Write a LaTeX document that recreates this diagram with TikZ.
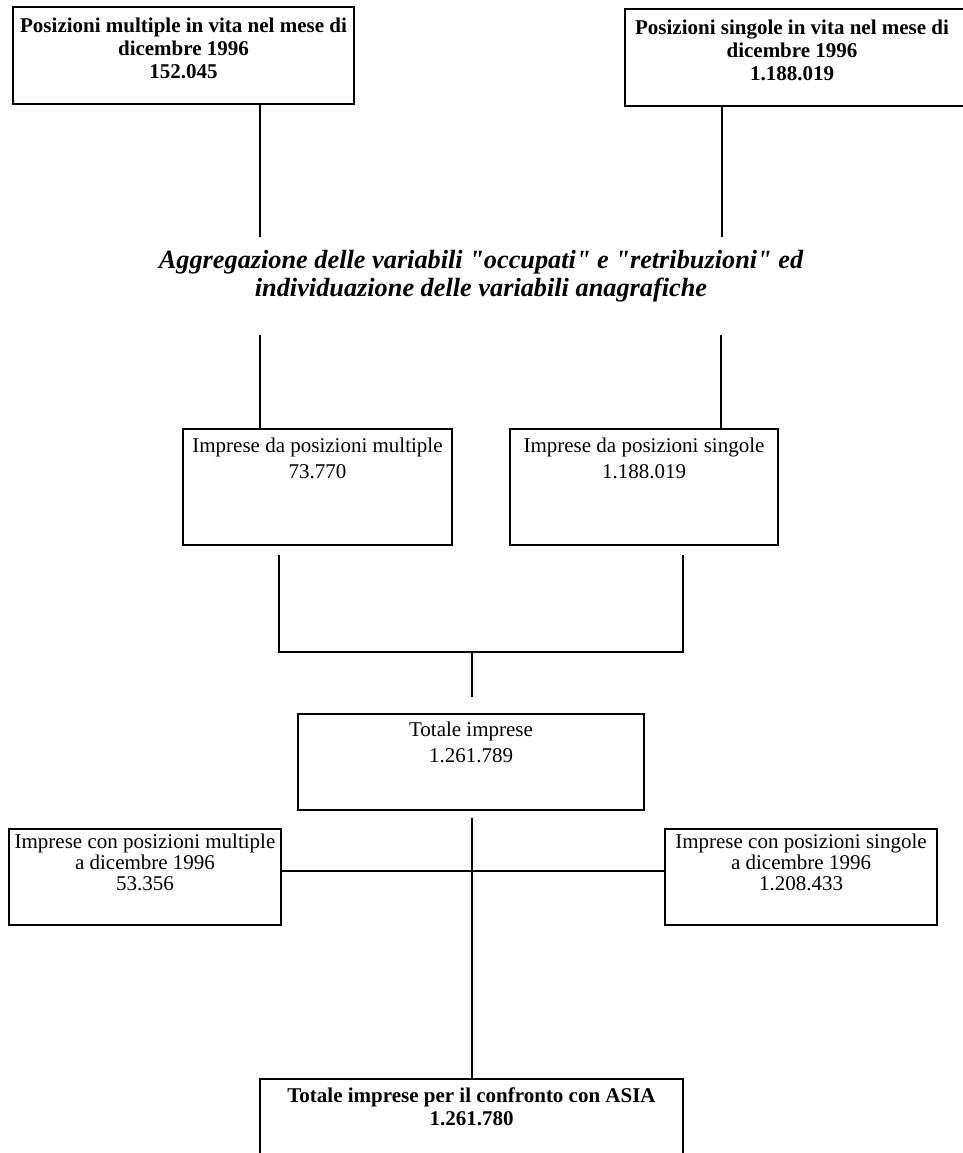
\documentclass[tikz,border=0pt]{standalone}
\usepackage{fontspec}
\setmainfont{Liberation Serif}
\newfontfamily\aggfont{Liberation Serif}[Ligatures=TeXOff]
\begin{document}
\begin{tikzpicture}[x=1pt,y=-1pt,
  box/.style={draw=black,line width=2pt,inner sep=0pt},
  conn/.style={draw=black,line width=1.5pt},
  txt/.style={anchor=north,align=center,inner sep=0pt,font=\fontsize{21}{26}\selectfont},
  stxt/.style={anchor=north,align=center,inner sep=0pt,font=\fontsize{21}{21}\selectfont},
  btxt/.style={anchor=north,align=center,inner sep=0pt,font=\fontsize{21}{23}\selectfont\bfseries},
  itxt/.style={anchor=north,align=center,inner sep=0pt,font=\aggfont\fontsize{26.3}{28}\selectfont\bfseries\itshape}]
\useasboundingbox (0,0) rectangle (963,1153);
\fill[white] (0,0) rectangle (963,1153);

% top boxes
\node[box,minimum width=341pt,minimum height=97pt] (tl) at (183.5,55.5) {};
\node[btxt] (tlt) at (183.5,18) {Posizioni multiple in vita nel mese di\\dicembre 1996\\152.045};
\node[box,minimum width=340pt,minimum height=97pt] (tr) at (795,57.5) {};
\node[btxt] (trt) at (792,20) {Posizioni singole in vita nel mese di\\dicembre 1996\\1.188.019};

\coordinate (tlj) at (260,237);
\coordinate (trj) at (722,237);
\draw[conn] (tl.south -| tlj) -- (tlj);
\draw[conn] (tr.south -| trj) -- (trj);

% aggregation text
\node[itxt] (agg) at (481,250) {Aggregazione delle variabili "occupati" e "retribuzioni" ed\\individuazione delle variabili anagrafiche};

% middle boxes
\node[box,minimum width=269pt,minimum height=116pt] (b1) at (317.5,487) {};
\node[txt] (b1t) at (317.5,438) {Imprese da posizioni multiple\\73.770};
\node[box,minimum width=268pt,minimum height=116pt] (b2) at (644,487) {};
\node[txt] (b2t) at (644,438) {Imprese da posizioni singole\\1.188.019};

\coordinate (b1j) at (260,335);
\coordinate (b2j) at (721,335);
\draw[conn] (b1j) -- (b1.north -| b1j);
\draw[conn] (b2j) -- (b2.north -| b2j);

% merge
\coordinate (m1a) at (279,555);
\coordinate (m1b) at (279,652);
\coordinate (m2a) at (683,555);
\coordinate (m2b) at (683,652);
\coordinate (mc) at (472,652);
\coordinate (mcd) at (472,697);
\draw[conn] (m1a) -- (m1b) -- (m2b) -- (m2a);
\draw[conn] (mc) -- (mcd);

% totale
\node[box,minimum width=346pt,minimum height=96pt] (tot) at (471,762) {};
\node[txt] (tott) at (471,722) {Totale imprese\\1.261.789};

% side boxes
\node[box,minimum width=272pt,minimum height=96pt] (ls) at (145,877) {};
\node[stxt] (lst) at (145,834) {Imprese con posizioni multiple\\a dicembre 1996\\53.356};
\node[box,minimum width=272pt,minimum height=96pt] (rs) at (801,877) {};
\node[stxt] (rst) at (801,834) {Imprese con posizioni singole\\a dicembre 1996\\1.208.433};

\coordinate (hy) at (472,871);
\draw[conn] (ls.east |- hy) -- (rs.west |- hy);

% bottom box
\node[box,minimum width=423pt,minimum height=100pt] (bot) at (471.5,1129) {};
\node[btxt] (bott) at (471.5,1087) {Totale imprese per il confronto con ASIA\\1.261.780};

\coordinate (tj) at (472,818);
\draw[conn] (tj) -- (bot.north -| tj);
\end{tikzpicture}
\end{document}
